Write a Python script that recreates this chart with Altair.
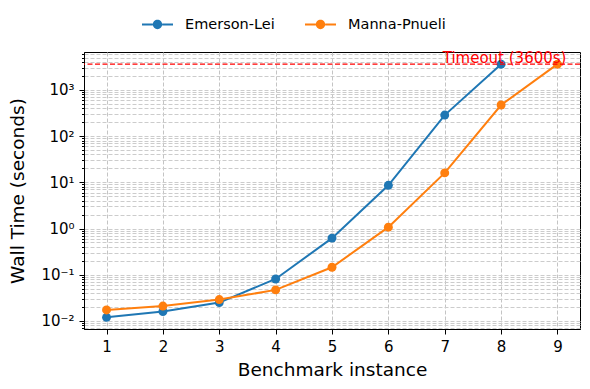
import altair as alt
import pandas as pd

instances = [1, 2, 3, 4, 5, 6, 7, 8, 9]
emerson_x = [1, 2, 3, 4, 5, 6, 7, 8]
emerson_y = [0.012, 0.016, 0.025, 0.081, 0.62, 8.6, 285, 3600]
manna_x = [1, 2, 3, 4, 5, 6, 7, 8, 9]
manna_y = [0.0173, 0.021, 0.029, 0.047, 0.145, 1.07, 16, 470, 3600]
series_names = ["Emerson-Lei", "Manna-Pnueli"]
series_colors = ["#1f77b4", "#ff7f0e"]
timeout_value = 3600
timeout_label = "Timeout (3600s)"

rows = []
for x, y in zip(emerson_x, emerson_y):
    rows.append({"instance": x, "time": y, "method": series_names[0]})
for x, y in zip(manna_x, manna_y):
    rows.append({"instance": x, "time": y, "method": series_names[1]})
df = pd.DataFrame(rows)

y_domain = [0.0067, 6600]
x_domain = [0.6, 9.4]

minor_vals = []
for e in range(-3, 4):
    for m in range(1, 10):
        v = round(m * 10 ** e, 6)
        if y_domain[0] <= v <= y_domain[1]:
            minor_vals.append(v)

is_dec = "abs(log(datum.value)/LN10 - round(log(datum.value)/LN10)) < 1e-6"
label_expr = (
    f"({is_dec}) ? ['10\u207b\u00b2','10\u207b\u00b9','10\u2070','10\u00b9','10\u00b2','10\u00b3']"
    "[round(log(datum.value)/LN10)+2] : ''"
)

color_scale = alt.Scale(domain=series_names, range=series_colors)
sym_path = (
    "M-1,-0.06L-0.3,-0.06L-0.3,0.06L-1,0.06Z"
    "M0.3,-0.06L1,-0.06L1,0.06L0.3,0.06Z"
    "M0.3,0A0.3,0.3 0 1,1 -0.3,0A0.3,0.3 0 1,1 0.3,0Z"
)
legend = alt.Legend(
    title=None,
    orient="none",
    direction="horizontal",
    legendX=58,
    legendY=-43,
    symbolType=sym_path,
    symbolSize=961,
    symbolStrokeWidth=0,
    symbolOpacity=1,
    labelFontSize=14.5,
    labelFont="DejaVu Sans",
    labelColor="black",
    labelOffset=12,
    columnPadding=30,
    padding=0,
)

x_enc = alt.X(
    "instance:Q",
    scale=alt.Scale(domain=x_domain, nice=False, zero=False),
    axis=alt.Axis(
        title="Benchmark instance",
        values=instances,
        format="d",
        grid=True,
        gridDash=[4, 2],
        gridColor="#c4c4c4",
        gridWidth=1,
        tickSize=5,
        tickColor="black",
        labelPadding=5,
        titlePadding=6,
    ),
)
y_enc = alt.Y(
    "time:Q",
    scale=alt.Scale(type="log", domain=y_domain, nice=False),
    axis=alt.Axis(
        title="Wall Time (seconds)",
        values=minor_vals,
        labelExpr=label_expr,
        grid=True,
        gridDash=[4, 2],
        gridColor="#cccccc",
        gridWidth=1,
        tickSize={"condition": {"test": is_dec, "value": 5}, "value": 2.5},
        tickColor="black",
        labelPadding=5,
        titlePadding=13,
    ),
)

base = alt.Chart(df)
lines = base.mark_line(strokeWidth=2).encode(
    x=x_enc,
    y=y_enc,
    color=alt.Color("method:N", scale=color_scale, legend=legend),
)
points = base.mark_circle(size=80, opacity=1).encode(
    x="instance:Q",
    y="time:Q",
    color=alt.Color("method:N", scale=color_scale, legend=legend),
)

rule = alt.Chart(pd.DataFrame({"t": [timeout_value]})).mark_rule(
    color="red", strokeDash=[5, 2.5], strokeWidth=1.3
).encode(y="t:Q")

text = alt.Chart(
    pd.DataFrame({"x": [7], "t": [timeout_value], "label": [timeout_label]})
).mark_text(
    color="red", align="left", baseline="bottom", fontSize=15, font="DejaVu Sans", dy=2, dx=-2
).encode(x="x:Q", y="t:Q", text="label:N")

chart = (
    alt.layer(lines, points, rule, text)
    .properties(
        width=496,
        height=277,
        autosize="none",
        padding={"left": 76, "top": 44, "right": 2, "bottom": 52},
    )
    .configure_view(stroke="black", strokeWidth=1)
    .configure_axis(
        labelFont="DejaVu Sans",
        titleFont="DejaVu Sans",
        labelFontSize=15,
        titleFontSize=18.5,
        titleFontWeight="normal",
        labelColor="black",
        titleColor="black",
        domainColor="black",
        domainWidth=1,
    )
)

chart.save("out.html", embed_options={"renderer": "svg", "actions": False})
